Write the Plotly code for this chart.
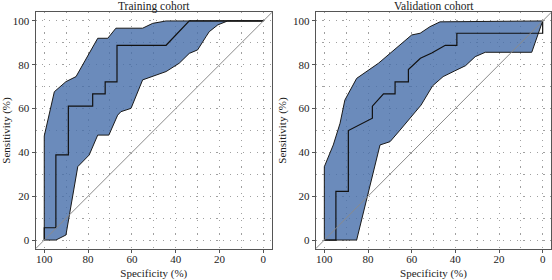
import plotly.graph_objects as go

# ---------------- data ----------------
# Training cohort ROC curve (specificity %, sensitivity %)
train_roc_spec = [100, 100, 94.7, 94.7, 89.0, 89.0, 77.9, 77.9, 72.2, 72.2, 66.8, 66.8, 44.4, 33.8, 0]
train_roc_sens = [0, 5.6, 5.6, 38.9, 38.9, 61.1, 61.1, 66.7, 66.7, 72.2, 72.2, 88.9, 88.9, 100, 100]
# Training CI band: upper and lower limits
train_up_spec = [100, 100, 95.4, 90.1, 85.5, 75.6, 71.0, 67.3, 55.1, 50.5, 44.4, 0]
train_up_sens = [0, 47.5, 67.7, 72.3, 74.6, 92.1, 92.1, 96.7, 96.7, 98.9, 100, 100]
train_lo_spec = [100, 94.7, 90.1, 89.3, 84.7, 79.5, 75.6, 70.5, 66.5, 65.0, 60.4, 55.1, 49.0,
                 44.4, 38.4, 33.8, 30.0, 26.2, 24.7, 20.8, 16.3, 0]
train_lo_sens = [0, 0, 2.3, 6.1, 33.5, 38.8, 47.9, 47.9, 57.0, 58.6, 60.1, 73.1, 75.3,
                 76.9, 80.7, 85.2, 86.8, 92.8, 95.1, 98.2, 100, 100]

# Validation cohort ROC curve
valid_roc_spec = [100, 94.7, 94.7, 89.0, 89.0, 78.0, 78.0, 72.9, 67.6, 67.6, 61.5, 61.5,
                  56.0, 50.8, 44.6, 39.3, 39.3, 0, 0]
valid_roc_sens = [0, 0, 22.2, 22.2, 50.0, 55.6, 61.1, 66.7, 66.7, 72.2, 72.2, 77.8,
                  83.0, 85.4, 88.9, 88.9, 94.4, 94.4, 100]
# Validation CI band
valid_up_spec = [100, 100, 95.9, 92.8, 90.6, 85.2, 75.2, 60.0, 56.1, 51.6, 47.0, 0]
valid_up_sens = [0, 33.5, 43.4, 53.3, 63.9, 73.8, 80.7, 93.6, 94.4, 97.4, 99.6, 100]
valid_lo_spec = [100, 85.2, 74.5, 69.9, 65.3, 55.7, 50.4, 45.6, 40.3, 35.3, 30.9, 26.3, 5.0, 0]
valid_lo_sens = [0, 0, 43.4, 44.9, 50.2, 61.6, 70.4, 74.6, 77.2, 79.6, 83.7, 85.7, 85.7, 100]

# chance (reference) diagonal: sensitivity = 100 - specificity, extended past the axes
diag_spec = [110, -10]
diag_sens = [-10, 110]

titles = ["Training cohort", "Validation cohort"]
tick_vals = [0, 20, 40, 60, 80, 100]
tick_text = ["0", "20", "40", "60", "80", "100"]

# ---------------- figure ----------------
FONT = "Liberation Serif, Times New Roman, serif"
FILL = "rgba(70,110,170,0.8)"

W, H = 552, 280
fig = go.Figure()

panels = [
    (train_roc_spec, train_roc_sens, train_up_spec, train_up_sens, train_lo_spec, train_lo_sens, "x", "y"),
    (valid_roc_spec, valid_roc_sens, valid_up_spec, valid_up_sens, valid_lo_spec, valid_lo_sens, "x2", "y2"),
]

for rs, rv, us, uv, ls, lv, xa, ya in panels:
    poly_x = list(us) + list(reversed(ls))
    poly_y = list(uv) + list(reversed(lv))
    fig.add_trace(go.Scatter(x=poly_x, y=poly_y, mode="lines", fill="toself",
                             fillcolor=FILL, line=dict(color="#1a1a1a", width=1),
                             xaxis=xa, yaxis=ya, hoverinfo="skip", showlegend=False))
    fig.add_trace(go.Scatter(x=rs, y=rv, mode="lines",
                             line=dict(color="#111111", width=1.2),
                             xaxis=xa, yaxis=ya, hoverinfo="skip", showlegend=False))
    # diagonal drawn as a shape above the fill (clipped to the subplot)
    fig.add_shape(type="line", xref=xa, yref=ya,
                  x0=diag_spec[0], y0=diag_sens[0], x1=diag_spec[1], y1=diag_sens[1],
                  line=dict(color="#8a8a8a", width=1), layer="above")

x_domains = [[35.5 / W, 272.1 / W], [315.6 / W, 551.4 / W]]
y_domain = [1 - 248.8 / H, 1 - 12.2 / H]

GRID = dict(gridcolor="#a0a0a0", gridwidth=1, griddash="1.2px,5.5px")
common = dict(
    showline=True, mirror=True, linecolor="#555555", linewidth=1,
    ticks="outside", ticklen=3, tickcolor="#555555", tickwidth=1,
    tickmode="array", tickvals=tick_vals, ticktext=tick_text,
    showgrid=True, **GRID,
    minor=dict(dtick=10, tick0=0, showgrid=True, ticks="", **GRID),
    zeroline=False, automargin=False,
    tickfont=dict(family=FONT, size=11, color="#222222"),
    range=[-4, 104], fixedrange=True,
)

layout = dict(
    width=W, height=H, margin=dict(l=0, r=0, t=0, b=0),
    paper_bgcolor="white", plot_bgcolor="white", showlegend=False,
    font=dict(family=FONT, size=11, color="#222222"),
)
for i, (xd, title) in enumerate(zip(x_domains, titles)):
    sfx = "" if i == 0 else str(i + 1)
    xa = dict(common)
    xa.update(domain=xd, range=[104, -4], anchor="y" + sfx, ticklabelstandoff=-3,
              title=dict(text="Specificity (%)", font=dict(family=FONT, size=11), standoff=9))
    ya = dict(common)
    ya.update(domain=y_domain, anchor="x" + sfx,
              title=dict(text="Sensitivity (%)", font=dict(family=FONT, size=11), standoff=4))
    layout["xaxis" + sfx] = xa
    layout["yaxis" + sfx] = ya

fig.update_layout(**layout)

for xd, title in zip(x_domains, titles):
    fig.add_annotation(text=title, x=(xd[0] + xd[1]) / 2, y=1 - 6 / H,
                       xref="paper", yref="paper", showarrow=False,
                       xanchor="center", yanchor="middle",
                       font=dict(family=FONT, size=11.5, color="#222222"))

fig.write_html("out.html")
